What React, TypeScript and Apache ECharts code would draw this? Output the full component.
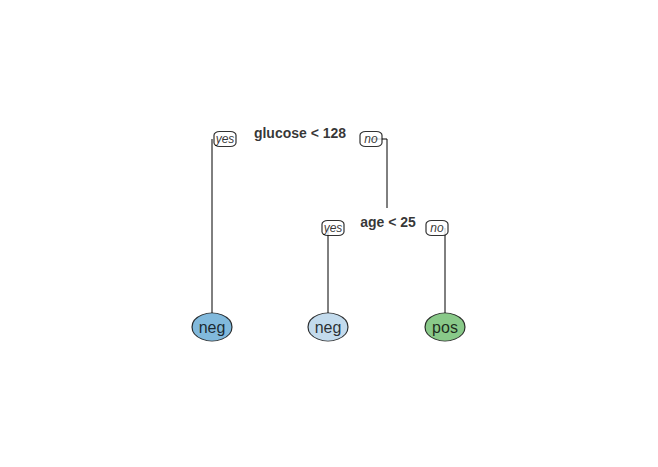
import React, { useEffect, useRef } from 'react';
import * as echarts from 'echarts';

// leaves: [x, y, label, colour]
const leaves: [number, number, string, string][] = [
  [212, 327, 'neg', '#62a7d3'],
  [328, 327, 'neg', '#b4d2e9'],
  [445, 327, 'pos', '#6bbb6c'],
];
// split labels
const splits: [number, number, string][] = [
  [300, 133, 'glucose < 128'],
  [388, 222, 'age < 25'],
];
// yes/no boxes
const boxes: [number, number, string][] = [
  [225, 139, 'yes'],
  [371, 139, 'no'],
  [333, 228, 'yes'],
  [437, 228, 'no'],
];
// branch lines
const edges: [number, number][][] = [
  [[212, 139], [212, 313]],
  [[371, 139], [387, 139], [387, 208]],
  [[328, 228], [328, 313]],
  [[445, 228], [445, 313]],
];

const App: React.FC = () => {
  const chartRef = useRef<HTMLDivElement | null>(null);

  useEffect(() => {
    if (!chartRef.current) return;
    const chart = echarts.init(chartRef.current, undefined, { renderer: 'svg' });
    const lineSeries = edges.map((e) => ({
      type: 'line',
      data: e,
      symbol: 'none',
      lineStyle: { color: '#000', width: 1 },
      z: 1,
    }));
    const option: echarts.EChartsOption = {
      animation: false,
      backgroundColor: '#fff',
      grid: { left: 0, right: 0, top: 0, bottom: 0 },
      xAxis: { type: 'value', min: 0, max: 658, show: false },
      yAxis: { type: 'value', min: 0, max: 467, inverse: true, show: false },
      series: [
        ...(lineSeries as any[]),
        {
          type: 'scatter',
          z: 3,
          data: boxes.map((b) => [b[0], b[1], b[2]]),
          symbol: 'roundRect',
          symbolSize: [22, 15],
          itemStyle: { color: '#fff', borderColor: '#000', borderWidth: 1 },
          label: {
            show: true,
            position: 'inside',
            formatter: (p: any) => p.value[2],
            color: '#000',
            fontStyle: 'italic',
            fontSize: 12,
            fontFamily: 'Liberation Sans',
          },
        },
        {
          type: 'scatter',
          z: 3,
          data: splits.map((s) => [s[0], s[1], s[2]]),
          symbolSize: 0,
          label: {
            show: true,
            position: 'inside',
            formatter: (p: any) => p.value[2],
            color: '#000',
            fontWeight: 'bold',
            fontSize: 14,
            fontFamily: 'Liberation Sans',
          },
        },
        {
          type: 'scatter',
          z: 3,
          data: leaves.map((l) => ({
            value: [l[0], l[1], l[2]],
            itemStyle: { color: l[3] },
          })),
          symbol: 'circle',
          symbolSize: [40, 28],
          itemStyle: { borderColor: '#000', borderWidth: 1 },
          label: {
            show: true,
            position: 'inside',
            formatter: (p: any) => p.value[2],
            color: '#000',
            fontSize: 16,
            fontFamily: 'Liberation Sans',
          },
        },
      ],
    };
    chart.setOption(option);
    return () => {
      chart.dispose();
    };
  }, []);

  return (
    <div
      ref={chartRef}
      style={{ position: 'absolute', left: 0, top: 0, width: '658px', height: '467px' }}
    />
  );
};

export default App;
